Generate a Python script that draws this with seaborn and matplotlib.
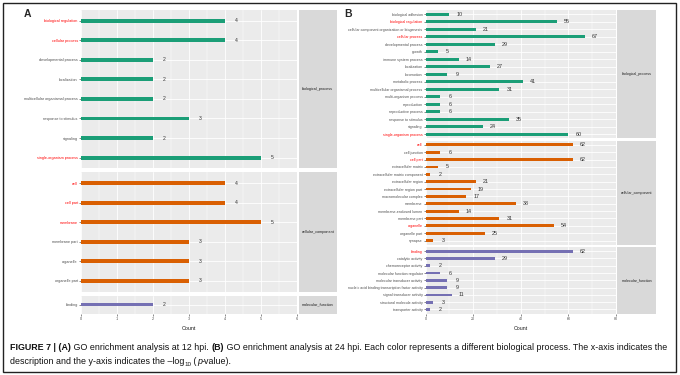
import matplotlib
matplotlib.use("Agg")
import matplotlib.pyplot as plt
import seaborn as sns
import pandas as pd
from matplotlib.patches import Rectangle

sns.set_theme(style="darkgrid")
plt.rcParams['font.family'] = ['Liberation Sans', 'DejaVu Sans']

# ---------------- data ----------------
# Panel A (12 hpi)
a_bp_terms = ["biological regulation", "cellular process", "developmental process", "localization",
              "multicellular organismal process", "response to stimulus", "signaling",
              "single-organism process"]
a_bp_counts = [4, 4, 2, 2, 2, 3, 2, 5]
a_cc_terms = ["cell", "cell part", "membrane", "membrane part", "organelle", "organelle part"]
a_cc_counts = [4, 4, 5, 3, 3, 3]
a_mf_terms = ["binding"]
a_mf_counts = [2]
a_red_terms = ["biological regulation", "cellular process", "single-organism process",
               "cell", "cell part", "membrane"]

# Panel B (24 hpi)
b_bp_terms = ["biological adhesion", "biological regulation",
              "cellular component organization or biogenesis", "cellular process",
              "developmental process", "growth", "immune system process", "localization",
              "locomotion", "metabolic process", "multicellular organismal process",
              "multi-organism process", "reproduction", "reproductive process",
              "response to stimulus", "signaling", "single-organism process"]
b_bp_counts = [10, 55, 21, 67, 29, 5, 14, 27, 9, 41, 31, 6, 6, 6, 35, 24, 60]
b_cc_terms = ["cell", "cell junction", "cell part", "extracellular matrix",
              "extracellular matrix component", "extracellular region", "extracellular region part",
              "macromolecular complex", "membrane", "membrane-enclosed lumen", "membrane part",
              "organelle", "organelle part", "synapse"]
b_cc_counts = [62, 6, 62, 5, 2, 21, 19, 17, 38, 14, 31, 54, 25, 3]
b_mf_terms = ["binding", "catalytic activity", "chemoreceptor activity",
              "molecular function regulator", "molecular transducer activity",
              "nucleic acid binding transcription factor activity", "signal transducer activity",
              "structural molecule activity", "transporter activity"]
b_mf_counts = [62, 29, 2, 6, 9, 9, 11, 3, 2]
b_red_terms = ["biological regulation", "cellular process", "single-organism process",
               "cell", "cell part", "organelle", "binding"]

facet_names = ["biological_process", "cellular_component", "molecular_function"]
facet_colors = ["#1B9E77", "#D95F02", "#7570B3"]

a_xticks = [0, 1, 2, 3, 4, 5, 6]
b_xticks = [0, 20, 40, 60, 80]

# ---------------- layout ----------------
W, H = 680, 375
fig = plt.figure(figsize=(W / 100, H / 100), dpi=100)
fig.patch.set_facecolor("white")


def ax_px(x0, y0, x1, y1):
    return fig.add_axes([x0 / W, 1 - y1 / H, (x1 - x0) / W, (y1 - y0) / H])


def draw_facet(box, strip_box, terms, counts, color, name, red, xticks, minor_step,
               bar_w, fs_lab, fs_val, val_off, show_x):
    x0, y0, x1, y1 = box
    ax = ax_px(x0, y0, x1, y1)
    df = pd.DataFrame({"term": terms, "count": counts})
    sns.barplot(data=df, x="count", y="term", orient="h", color=color, width=bar_w,
                saturation=1, ax=ax, order=terms, linewidth=0)
    for p in ax.patches:
        p.set_zorder(3)
    n = len(terms)
    ax.set_xlim(xticks[0], xticks[-1])
    ax.set_ylim(n - 1 + 0.55, -0.55)
    ax.set_facecolor("#EBEBEB")
    ax.set_xticks(xticks)
    minors = [xticks[0] + minor_step * (2 * k + 1) for k in range(len(xticks) - 1)]
    ax.set_xticks(minors, minor=True)
    ax.grid(True, which="major", color="white", lw=0.6, zorder=0)
    ax.grid(True, which="minor", axis="x", color="white", lw=0.3, zorder=0)
    ax.set_axisbelow(True)
    for s in ax.spines.values():
        s.set_visible(False)
    ax.set_ylabel("")
    ax.tick_params(axis="y", left=True, length=1.5, width=0.4, color="#333333",
                   labelsize=fs_lab, labelcolor="#4D4D4D", pad=0.8)
    ax.tick_params(axis="x", which="major", bottom=show_x, length=1.5, width=0.4,
                   color="#333333", labelsize=fs_lab, labelcolor="#4D4D4D", pad=0.8,
                   labelbottom=show_x)
    ax.tick_params(axis="x", which="minor", bottom=False)
    for lab in ax.get_yticklabels():
        if lab.get_text() in red:
            lab.set_color("red")
    if show_x:
        ax.set_xlabel("Count", fontsize=fs_lab + 1.2, color="#1A1A1A", labelpad=1.5)
    else:
        ax.set_xlabel("")
    for i, c in enumerate(counts):
        ax.annotate(str(c), xy=(c, i), xytext=(val_off, 0), textcoords="offset pixels",
                    ha="center", va="center", fontsize=fs_val, color="#333333")
    # strip
    sx0, sx1 = strip_box
    sax = ax_px(sx0, y0, sx1, y1)
    sax.set_facecolor("#D9D9D9")
    sax.set_xticks([])
    sax.set_yticks([])
    sax.grid(False)
    for s in sax.spines.values():
        s.set_visible(False)
    sax.text(0.5, 0.5, name, transform=sax.transAxes, ha="center", va="center",
             fontsize=fs_lab, color="#1A1A1A")
    return ax


# Panel A
a_groups = [(a_bp_terms, a_bp_counts), (a_cc_terms, a_cc_counts), (a_mf_terms, a_mf_counts)]
a_boxes = [(10, 168.3), (172.3, 291.7), (295.5, 313.5)]
for k, ((t, c), (ya, yb)) in enumerate(zip(a_groups, a_boxes)):
    draw_facet((81, ya, 297, yb), (298.5, 337), t, c, facet_colors[k], facet_names[k],
               a_red_terms, a_xticks, 0.5, 0.2, 2.7, 3.6, 11, k == 2)

# Panel B
b_groups = [(b_bp_terms, b_bp_counts), (b_cc_terms, b_cc_counts), (b_mf_terms, b_mf_counts)]
b_boxes = [(10, 138.2), (140.8, 244.6), (247.2, 313.5)]
for k, ((t, c), (ya, yb)) in enumerate(zip(b_groups, b_boxes)):
    draw_facet((425.7, ya, 616, yb), (617.3, 656), t, c, facet_colors[k], facet_names[k],
               b_red_terms, b_xticks, 10, 0.38, 2.6, 3.9, 10, k == 2)

fig.text(27.5 / W, 1 - 14 / H, "A", fontsize=7.5, fontweight="bold", ha="center", va="center")
fig.text(348 / W, 1 - 14 / H, "B", fontsize=7.5, fontweight="bold", ha="center", va="center")

# ---------------- caption ----------------
fig.canvas.draw()
renderer = fig.canvas.get_renderer()


def piece_width(s, size, weight="normal", style="normal"):
    t = fig.text(0, 0, "x" + s + "x", fontsize=size, fontweight=weight, fontstyle=style)
    w1 = t.get_window_extent(renderer).width
    t.remove()
    t = fig.text(0, 0, "xx", fontsize=size, fontweight=weight, fontstyle=style)
    w2 = t.get_window_extent(renderer).width
    t.remove()
    return w1 - w2


def draw_line(pieces, x, y, size):
    for s, weight, style, dy, scale in pieces:
        fs = size * scale
        fig.text(x / W, 1 - (y + dy) / H, s, fontsize=fs, fontweight=weight,
                 fontstyle=style, ha="left", va="baseline", color="#111111")
        x += piece_width(s, fs, weight, style)


line1 = [("FIGURE 7 | (A)", "bold", "normal", 0, 1.0),
         (" GO enrichment analysis at 12 hpi. ", "normal", "normal", 0, 1.0),
         ("(B)", "bold", "normal", 0, 1.0),
         (" GO enrichment analysis at 24 hpi. Each color represents a different biological "
          "process. The x-axis indicates the", "normal", "normal", 0, 1.0)]
line2 = [("description and the y-axis indicates the \u2013log", "normal", "normal", 0, 1.0),
         ("10", "normal", "normal", 1.5, 0.7),
         (" (", "normal", "normal", 0, 1.0),
         ("p", "normal", "italic", 0, 1.0),
         ("-value).", "normal", "normal", 0, 1.0)]

base = 6.0
w = sum(piece_width(s, base * sc, wt, st) for s, wt, st, dy, sc in line1)
cap_size = base * (658.0 / w)
draw_line(line1, 10, 350.5, cap_size)
draw_line(line2, 10, 364.5, cap_size)

fig.patches.append(Rectangle((2.5 / W, 1 - 372 / H), (676 - 2.5) / W, (372 - 2.5) / H,
                             transform=fig.transFigure, fill=False, ec="#222222", lw=1.0))

fig.savefig("out.png", dpi=100)
